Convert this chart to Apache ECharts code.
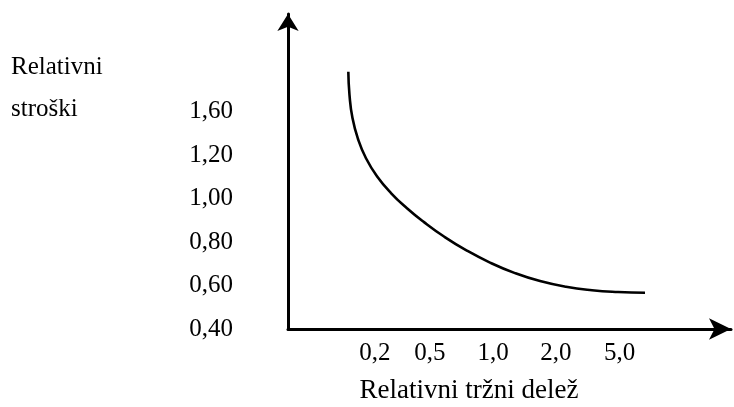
<!DOCTYPE html>
<html>
<head>
<meta charset="utf-8">
<script src="https://cdn.jsdelivr.net/npm/echarts@6/dist/echarts.min.js"></script>
<style>html,body{margin:0;padding:0;background:#fff}#c{width:734px;height:407px}</style>
</head>
<body>
<div id="c"></div>
<script>
// Tick labels (schematic axes, labels placed at evenly indexed steps)
var yLabels = ['0,40', '0,60', '0,80', '1,00', '1,20', '1,60'];
var xLabels = ['0,2', '0,5', '1,0', '2,0', '5,0'];
// positions of the x labels along the schematic axis (axis units)
var xLabelAt = [1.40, 2.29, 3.31, 4.32, 5.35];
// Curve (schematic experience curve) in axis units
var curveX = [0.973, 0.992, 1.040, 1.129, 1.258, 1.435, 1.661, 1.919, 2.194, 2.516, 2.871, 3.258, 3.661, 4.065, 4.484, 4.903, 5.323, 5.758];
var curveY = [5.915, 5.379, 4.848, 4.368, 3.926, 3.513, 3.126, 2.777, 2.457, 2.126, 1.814, 1.527, 1.285, 1.101, 0.970, 0.892, 0.851, 0.832];
var yTitle = ['Relativni', 'stroški'];
var xTitle = 'Relativni tržni delež';

var FONT = 'Liberation Serif';
var chart = echarts.init(document.getElementById('c'), null, {renderer: 'canvas'});
var pts = curveX.map(function (x, i) { return [x, curveY[i]]; });
var xMin = 0, xMax = (731 - 288) / 62;
var yMin = 0, yMax = (329 - 14) / 43.5;

chart.setOption({
  animation: false,
  backgroundColor: '#fff',
  grid: {left: 288, right: 3, top: 14, bottom: 78, containLabel: false},
  xAxis: {
    type: 'value', min: xMin, max: xMax,
    splitLine: {show: false},
    axisTick: {show: false},
    axisLine: {show: true, onZero: false, lineStyle: {color: '#000', width: 3},
      symbol: ['none', 'arrow'], symbolSize: [16, 22]},
    axisLabel: {
      customValues: xLabelAt,
      formatter: function (v) {
        for (var i = 0; i < xLabelAt.length; i++) { if (Math.abs(xLabelAt[i] - v) < 1e-6) return xLabels[i]; }
        return '';
      },
      color: '#000', fontFamily: FONT, fontSize: 25, margin: 12
    }
  },
  yAxis: {
    type: 'value', min: yMin, max: yMax,
    splitLine: {show: false},
    axisTick: {show: false},
    axisLine: {show: true, onZero: false, lineStyle: {color: '#000', width: 3},
      symbol: ['none', 'arrow'], symbolSize: [16, 17]},
    axisLabel: {
      customValues: [0, 1, 2, 3, 4, 5],
      formatter: function (v) { return yLabels[Math.round(v)] || ''; },
      color: '#000', fontFamily: FONT, fontSize: 25, margin: 55
    }
  },
  series: [{
    type: 'line', data: pts, smooth: 0.5, showSymbol: false, symbol: 'none',
    lineStyle: {color: '#000', width: 2.6}
  }],
  graphic: [
    {type: 'text', left: 11, top: 55, style: {text: yTitle[0], font: '25px "' + FONT + '"', fill: '#000'}},
    {type: 'text', left: 11, top: 97, style: {text: yTitle[1], font: '25px "' + FONT + '"', fill: '#000'}},
    {type: 'text', x: 469, y: 377, style: {text: xTitle, font: '27px "' + FONT + '"', fill: '#000', align: 'center', verticalAlign: 'top'}}
  ]
});
</script>
</body>
</html>
